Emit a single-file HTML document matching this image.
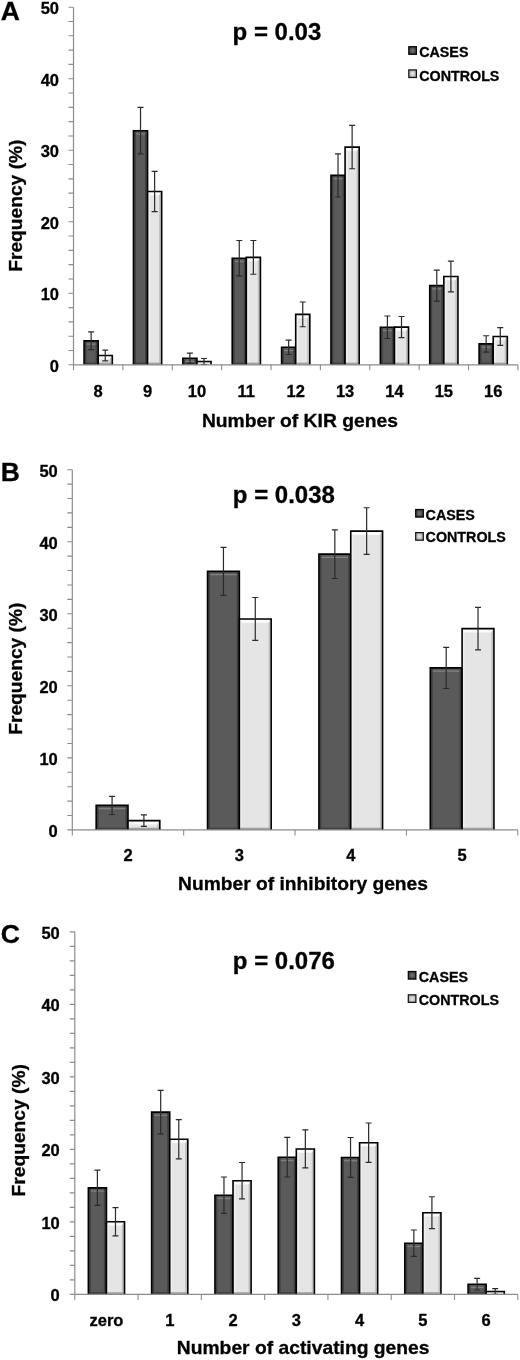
<!DOCTYPE html><html><head><meta charset="utf-8"><style>html,body{margin:0;padding:0;background:#fff;}svg{display:block;will-change:transform;}#w{width:520px;height:1360px;}text{font-family:"Liberation Sans",sans-serif;font-weight:bold;fill:#000;stroke:#000;stroke-width:0.3px;}</style></head><body>
<div id="w">
<svg width="520" height="1360" viewBox="0 0 520 1360">
<defs>
<linearGradient id="gd" x1="0" x2="1" y1="0" y2="0">
 <stop offset="0" stop-color="#2e2e2e"/><stop offset="0.12" stop-color="#474747"/><stop offset="0.5" stop-color="#555"/><stop offset="0.88" stop-color="#474747"/><stop offset="1" stop-color="#2e2e2e"/>
</linearGradient>
<linearGradient id="gl" x1="0" x2="1" y1="0" y2="0">
 <stop offset="0" stop-color="#a8a8a8"/><stop offset="0.14" stop-color="#d4d4d4"/><stop offset="0.5" stop-color="#e4e4e4"/><stop offset="0.86" stop-color="#d4d4d4"/><stop offset="1" stop-color="#a8a8a8"/>
</linearGradient>
<radialGradient id="ld" cx="0.5" cy="0.5" r="0.6"><stop offset="0" stop-color="#777"/><stop offset="1" stop-color="#333"/></radialGradient>
<radialGradient id="ll" cx="0.5" cy="0.5" r="0.6"><stop offset="0" stop-color="#eee"/><stop offset="1" stop-color="#999"/></radialGradient>
</defs>
<rect x="0" y="0" width="520" height="1360" fill="#fff"/>
<rect x="84.08" y="340.84" width="14.11" height="23.96" fill="#5a5a5a"/>
<rect x="84.88" y="340.84" width="1.6" height="23.96" fill="#3e3e3e"/>
<rect x="95.59" y="340.84" width="1.8" height="23.96" fill="#404040"/>
<rect x="86.68" y="343.44" width="8.91" height="1.3" fill="#808080"/>
<rect x="84.88" y="362.60" width="12.51" height="2.2" fill="#3e3e3e"/>
<path d="M84.08 364.80V340.84H98.19V364.80" fill="none" stroke="#000" stroke-width="1.6"/>
<rect x="98.19" y="355.50" width="14.11" height="9.30" fill="#e5e5e5"/>
<rect x="98.99" y="355.50" width="1.6" height="9.30" fill="#f0f0f0"/>
<rect x="109.70" y="355.50" width="1.8" height="9.30" fill="#c0c0c0"/>
<path d="M98.99 356.30H111.50L109.70 359.30H100.59Z" fill="#fbfbfb"/>
<rect x="98.99" y="362.60" width="12.51" height="2.2" fill="#a2a2a2"/>
<path d="M98.19 364.80V355.50H112.30V364.80" fill="none" stroke="#000" stroke-width="1.6"/>
<rect x="133.46" y="130.72" width="14.11" height="234.08" fill="#5a5a5a"/>
<rect x="134.26" y="130.72" width="1.6" height="234.08" fill="#3e3e3e"/>
<rect x="144.97" y="130.72" width="1.8" height="234.08" fill="#404040"/>
<rect x="136.06" y="133.32" width="8.91" height="1.3" fill="#808080"/>
<rect x="134.26" y="362.60" width="12.51" height="2.2" fill="#3e3e3e"/>
<path d="M133.46 364.80V130.72H147.57V364.80" fill="none" stroke="#000" stroke-width="1.6"/>
<rect x="147.57" y="191.51" width="14.11" height="173.29" fill="#e5e5e5"/>
<rect x="148.37" y="191.51" width="1.6" height="173.29" fill="#f0f0f0"/>
<rect x="159.07" y="191.51" width="1.8" height="173.29" fill="#c0c0c0"/>
<path d="M148.37 192.31H160.87L159.07 195.31H149.97Z" fill="#fbfbfb"/>
<rect x="148.37" y="362.60" width="12.51" height="2.2" fill="#a2a2a2"/>
<path d="M147.57 364.80V191.51H161.67V364.80" fill="none" stroke="#000" stroke-width="1.6"/>
<rect x="182.84" y="358.22" width="14.11" height="6.58" fill="#5a5a5a"/>
<rect x="183.64" y="358.22" width="1.6" height="6.58" fill="#3e3e3e"/>
<rect x="194.34" y="358.22" width="1.8" height="6.58" fill="#404040"/>
<rect x="185.44" y="360.82" width="8.91" height="1.3" fill="#808080"/>
<rect x="183.64" y="362.60" width="12.51" height="2.2" fill="#3e3e3e"/>
<path d="M182.84 364.80V358.22H196.94V364.80" fill="none" stroke="#000" stroke-width="1.6"/>
<rect x="196.94" y="361.51" width="14.11" height="3.29" fill="#e5e5e5"/>
<path d="M196.94 364.80V361.51H211.05V364.80" fill="none" stroke="#000" stroke-width="1.6"/>
<rect x="232.21" y="258.24" width="14.11" height="106.56" fill="#5a5a5a"/>
<rect x="233.01" y="258.24" width="1.6" height="106.56" fill="#3e3e3e"/>
<rect x="243.72" y="258.24" width="1.8" height="106.56" fill="#404040"/>
<rect x="234.81" y="260.84" width="8.91" height="1.3" fill="#808080"/>
<rect x="233.01" y="362.60" width="12.51" height="2.2" fill="#3e3e3e"/>
<path d="M232.21 364.80V258.24H246.32V364.80" fill="none" stroke="#000" stroke-width="1.6"/>
<rect x="246.32" y="257.38" width="14.11" height="107.42" fill="#e5e5e5"/>
<rect x="247.12" y="257.38" width="1.6" height="107.42" fill="#f0f0f0"/>
<rect x="257.83" y="257.38" width="1.8" height="107.42" fill="#c0c0c0"/>
<path d="M247.12 258.18H259.63L257.83 261.18H248.72Z" fill="#fbfbfb"/>
<rect x="247.12" y="362.60" width="12.51" height="2.2" fill="#a2a2a2"/>
<path d="M246.32 364.80V257.38H260.43V364.80" fill="none" stroke="#000" stroke-width="1.6"/>
<rect x="281.59" y="347.28" width="14.11" height="17.52" fill="#5a5a5a"/>
<rect x="282.39" y="347.28" width="1.6" height="17.52" fill="#3e3e3e"/>
<rect x="293.10" y="347.28" width="1.8" height="17.52" fill="#404040"/>
<rect x="284.19" y="349.88" width="8.91" height="1.3" fill="#808080"/>
<rect x="282.39" y="362.60" width="12.51" height="2.2" fill="#3e3e3e"/>
<path d="M281.59 364.80V347.28H295.70V364.80" fill="none" stroke="#000" stroke-width="1.6"/>
<rect x="295.70" y="314.38" width="14.11" height="50.42" fill="#e5e5e5"/>
<rect x="296.50" y="314.38" width="1.6" height="50.42" fill="#f0f0f0"/>
<rect x="307.21" y="314.38" width="1.8" height="50.42" fill="#c0c0c0"/>
<path d="M296.50 315.18H309.01L307.21 318.18H298.10Z" fill="#fbfbfb"/>
<rect x="296.50" y="362.60" width="12.51" height="2.2" fill="#a2a2a2"/>
<path d="M295.70 364.80V314.38H309.81V364.80" fill="none" stroke="#000" stroke-width="1.6"/>
<rect x="330.97" y="175.42" width="14.11" height="189.38" fill="#5a5a5a"/>
<rect x="331.77" y="175.42" width="1.6" height="189.38" fill="#3e3e3e"/>
<rect x="342.48" y="175.42" width="1.8" height="189.38" fill="#404040"/>
<rect x="333.57" y="178.02" width="8.91" height="1.3" fill="#808080"/>
<rect x="331.77" y="362.60" width="12.51" height="2.2" fill="#3e3e3e"/>
<path d="M330.97 364.80V175.42H345.08V364.80" fill="none" stroke="#000" stroke-width="1.6"/>
<rect x="345.08" y="147.09" width="14.11" height="217.71" fill="#e5e5e5"/>
<rect x="345.88" y="147.09" width="1.6" height="217.71" fill="#f0f0f0"/>
<rect x="356.59" y="147.09" width="1.8" height="217.71" fill="#c0c0c0"/>
<path d="M345.88 147.89H358.39L356.59 150.89H347.48Z" fill="#fbfbfb"/>
<rect x="345.88" y="362.60" width="12.51" height="2.2" fill="#a2a2a2"/>
<path d="M345.08 364.80V147.09H359.19V364.80" fill="none" stroke="#000" stroke-width="1.6"/>
<rect x="380.35" y="327.25" width="14.11" height="37.55" fill="#5a5a5a"/>
<rect x="381.15" y="327.25" width="1.6" height="37.55" fill="#3e3e3e"/>
<rect x="391.86" y="327.25" width="1.8" height="37.55" fill="#404040"/>
<rect x="382.95" y="329.85" width="8.91" height="1.3" fill="#808080"/>
<rect x="381.15" y="362.60" width="12.51" height="2.2" fill="#3e3e3e"/>
<path d="M380.35 364.80V327.25H394.46V364.80" fill="none" stroke="#000" stroke-width="1.6"/>
<rect x="394.46" y="327.11" width="14.11" height="37.69" fill="#e5e5e5"/>
<rect x="395.26" y="327.11" width="1.6" height="37.69" fill="#f0f0f0"/>
<rect x="405.96" y="327.11" width="1.8" height="37.69" fill="#c0c0c0"/>
<path d="M395.26 327.91H407.76L405.96 330.91H396.86Z" fill="#fbfbfb"/>
<rect x="395.26" y="362.60" width="12.51" height="2.2" fill="#a2a2a2"/>
<path d="M394.46 364.80V327.11H408.56V364.80" fill="none" stroke="#000" stroke-width="1.6"/>
<rect x="429.73" y="285.63" width="14.11" height="79.17" fill="#5a5a5a"/>
<rect x="430.53" y="285.63" width="1.6" height="79.17" fill="#3e3e3e"/>
<rect x="441.23" y="285.63" width="1.8" height="79.17" fill="#404040"/>
<rect x="432.33" y="288.23" width="8.91" height="1.3" fill="#808080"/>
<rect x="430.53" y="362.60" width="12.51" height="2.2" fill="#3e3e3e"/>
<path d="M429.73 364.80V285.63H443.83V364.80" fill="none" stroke="#000" stroke-width="1.6"/>
<rect x="443.83" y="276.54" width="14.11" height="88.26" fill="#e5e5e5"/>
<rect x="444.63" y="276.54" width="1.6" height="88.26" fill="#f0f0f0"/>
<rect x="455.34" y="276.54" width="1.8" height="88.26" fill="#c0c0c0"/>
<path d="M444.63 277.34H457.14L455.34 280.34H446.23Z" fill="#fbfbfb"/>
<rect x="444.63" y="362.60" width="12.51" height="2.2" fill="#a2a2a2"/>
<path d="M443.83 364.80V276.54H457.94V364.80" fill="none" stroke="#000" stroke-width="1.6"/>
<rect x="479.10" y="343.92" width="14.11" height="20.88" fill="#5a5a5a"/>
<rect x="479.90" y="343.92" width="1.6" height="20.88" fill="#3e3e3e"/>
<rect x="490.61" y="343.92" width="1.8" height="20.88" fill="#404040"/>
<rect x="481.70" y="346.52" width="8.91" height="1.3" fill="#808080"/>
<rect x="479.90" y="362.60" width="12.51" height="2.2" fill="#3e3e3e"/>
<path d="M479.10 364.80V343.92H493.21V364.80" fill="none" stroke="#000" stroke-width="1.6"/>
<rect x="493.21" y="336.48" width="14.11" height="28.32" fill="#e5e5e5"/>
<rect x="494.01" y="336.48" width="1.6" height="28.32" fill="#f0f0f0"/>
<rect x="504.72" y="336.48" width="1.8" height="28.32" fill="#c0c0c0"/>
<path d="M494.01 337.28H506.52L504.72 340.28H495.61Z" fill="#fbfbfb"/>
<rect x="494.01" y="362.60" width="12.51" height="2.2" fill="#a2a2a2"/>
<path d="M493.21 364.80V336.48H507.32V364.80" fill="none" stroke="#000" stroke-width="1.6"/>
<path d="M91.13 331.97V349.71M88.13 331.97H94.13M88.13 349.71H94.13" stroke="#2a2a2a" stroke-width="1.2" fill="none"/>
<path d="M105.24 350.14V360.87M102.24 350.14H108.24M102.24 360.87H108.24" stroke="#2a2a2a" stroke-width="1.2" fill="none"/>
<path d="M140.51 107.47V153.96M137.51 107.47H143.51M137.51 153.96H143.51" stroke="#2a2a2a" stroke-width="1.2" fill="none"/>
<path d="M154.62 171.34V211.68M151.62 171.34H157.62M151.62 211.68H157.62" stroke="#2a2a2a" stroke-width="1.2" fill="none"/>
<path d="M189.89 353.14V363.30M186.89 353.14H192.89M186.89 363.30H192.89" stroke="#2a2a2a" stroke-width="1.2" fill="none"/>
<path d="M204.00 358.51V364.51M201.00 358.51H207.00M201.00 364.51H207.00" stroke="#2a2a2a" stroke-width="1.2" fill="none"/>
<path d="M239.27 240.50V275.97M236.27 240.50H242.27M236.27 275.97H242.27" stroke="#2a2a2a" stroke-width="1.2" fill="none"/>
<path d="M253.38 240.50V274.26M250.38 240.50H256.38M250.38 274.26H256.38" stroke="#2a2a2a" stroke-width="1.2" fill="none"/>
<path d="M288.65 340.05V354.50M285.65 340.05H291.65M285.65 354.50H291.65" stroke="#2a2a2a" stroke-width="1.2" fill="none"/>
<path d="M302.75 302.01V326.75M299.75 302.01H305.75M299.75 326.75H305.75" stroke="#2a2a2a" stroke-width="1.2" fill="none"/>
<path d="M338.02 153.82V197.01M335.02 153.82H341.02M335.02 197.01H341.02" stroke="#2a2a2a" stroke-width="1.2" fill="none"/>
<path d="M352.13 125.42V168.76M349.13 125.42H355.13M349.13 168.76H355.13" stroke="#2a2a2a" stroke-width="1.2" fill="none"/>
<path d="M387.40 316.02V338.48M384.40 316.02H390.40M384.40 338.48H390.40" stroke="#2a2a2a" stroke-width="1.2" fill="none"/>
<path d="M401.51 316.52V337.69M398.51 316.52H404.51M398.51 337.69H404.51" stroke="#2a2a2a" stroke-width="1.2" fill="none"/>
<path d="M436.78 270.04V301.22M433.78 270.04H439.78M433.78 301.22H439.78" stroke="#2a2a2a" stroke-width="1.2" fill="none"/>
<path d="M450.89 261.17V291.92M447.89 261.17H453.89M447.89 291.92H453.89" stroke="#2a2a2a" stroke-width="1.2" fill="none"/>
<path d="M486.16 335.76V352.07M483.16 335.76H489.16M483.16 352.07H489.16" stroke="#2a2a2a" stroke-width="1.2" fill="none"/>
<path d="M500.27 327.54V345.42M497.27 327.54H503.27M497.27 345.42H503.27" stroke="#2a2a2a" stroke-width="1.2" fill="none"/>
<path d="M73.50 7.20V364.80H517.90" stroke="#8c8c8c" stroke-width="1.2" fill="none"/>
<path d="M68.50 364.80H73.50M68.50 350.50H73.50M68.50 336.19H73.50M68.50 321.89H73.50M68.50 307.58H73.50M68.50 293.28H73.50M68.50 278.98H73.50M68.50 264.67H73.50M68.50 250.37H73.50M68.50 236.06H73.50M68.50 221.76H73.50M68.50 207.46H73.50M68.50 193.15H73.50M68.50 178.85H73.50M68.50 164.54H73.50M68.50 150.24H73.50M68.50 135.94H73.50M68.50 121.63H73.50M68.50 107.33H73.50M68.50 93.02H73.50M68.50 78.72H73.50M68.50 64.42H73.50M68.50 50.11H73.50M68.50 35.81H73.50M68.50 21.50H73.50M68.50 7.20H73.50M73.50 364.80V370.30M122.88 364.80V370.30M172.26 364.80V370.30M221.63 364.80V370.30M271.01 364.80V370.30M320.39 364.80V370.30M369.77 364.80V370.30M419.14 364.80V370.30M468.52 364.80V370.30M517.90 364.80V370.30" stroke="#8c8c8c" stroke-width="1.1" fill="none"/>
<text x="59.00" y="371.60" font-size="16.5" text-anchor="end">0</text>
<text x="59.00" y="300.08" font-size="16.5" text-anchor="end">10</text>
<text x="59.00" y="228.56" font-size="16.5" text-anchor="end">20</text>
<text x="59.00" y="157.04" font-size="16.5" text-anchor="end">30</text>
<text x="59.00" y="85.52" font-size="16.5" text-anchor="end">40</text>
<text x="59.00" y="14.00" font-size="16.5" text-anchor="end">50</text>
<text x="98.19" y="396.50" font-size="16.5" text-anchor="middle">8</text>
<text x="147.57" y="396.50" font-size="16.5" text-anchor="middle">9</text>
<text x="196.94" y="396.50" font-size="16.5" text-anchor="middle">10</text>
<text x="246.32" y="396.50" font-size="16.5" text-anchor="middle">11</text>
<text x="295.70" y="396.50" font-size="16.5" text-anchor="middle">12</text>
<text x="345.08" y="396.50" font-size="16.5" text-anchor="middle">13</text>
<text x="394.46" y="396.50" font-size="16.5" text-anchor="middle">14</text>
<text x="443.83" y="396.50" font-size="16.5" text-anchor="middle">15</text>
<text x="493.21" y="396.50" font-size="16.5" text-anchor="middle">16</text>
<text x="201.90" y="427.20" font-size="19" textLength="196.0" lengthAdjust="spacingAndGlyphs">Number of KIR genes</text>
<text transform="translate(21.60,271.80) rotate(-90)" x="0" y="0" font-size="19" textLength="132.3" lengthAdjust="spacingAndGlyphs">Frequency (%)</text>
<text x="0.8" y="20.20" font-size="26.5">A</text>
<text x="232.60" y="40.40" font-size="24">p = 0.03</text>
<rect x="408.80" y="46.70" width="7.6" height="7.6" fill="url(#ld)" stroke="#000" stroke-width="1.2"/>
<rect x="408.80" y="69.90" width="7.6" height="7.6" fill="url(#ll)" stroke="#111" stroke-width="1.2"/>
<text x="419.20" y="56.90" font-size="14.3">CASES</text>
<text x="419.20" y="80.60" font-size="14.3">CONTROLS</text>
<rect x="96.17" y="805.41" width="31.82" height="24.49" fill="#5a5a5a"/>
<rect x="96.97" y="805.41" width="1.6" height="24.49" fill="#3e3e3e"/>
<rect x="125.39" y="805.41" width="1.8" height="24.49" fill="#404040"/>
<rect x="98.77" y="808.01" width="26.62" height="1.3" fill="#808080"/>
<rect x="96.97" y="827.70" width="30.22" height="2.2" fill="#3e3e3e"/>
<path d="M96.17 829.90V805.41H127.99V829.90" fill="none" stroke="#000" stroke-width="1.6"/>
<rect x="127.99" y="820.61" width="31.82" height="9.29" fill="#e5e5e5"/>
<rect x="128.79" y="820.61" width="1.6" height="9.29" fill="#f0f0f0"/>
<rect x="157.21" y="820.61" width="1.8" height="9.29" fill="#c0c0c0"/>
<path d="M128.79 821.41H159.01L157.21 824.41H130.39Z" fill="#fbfbfb"/>
<rect x="128.79" y="827.70" width="30.22" height="2.2" fill="#a2a2a2"/>
<path d="M127.99 829.90V820.61H159.81V829.90" fill="none" stroke="#000" stroke-width="1.6"/>
<rect x="207.54" y="571.35" width="31.82" height="258.55" fill="#5a5a5a"/>
<rect x="208.34" y="571.35" width="1.6" height="258.55" fill="#3e3e3e"/>
<rect x="236.76" y="571.35" width="1.8" height="258.55" fill="#404040"/>
<rect x="210.14" y="573.95" width="26.62" height="1.3" fill="#808080"/>
<rect x="208.34" y="827.70" width="30.22" height="2.2" fill="#3e3e3e"/>
<path d="M207.54 829.90V571.35H239.36V829.90" fill="none" stroke="#000" stroke-width="1.6"/>
<rect x="239.36" y="618.97" width="31.82" height="210.93" fill="#e5e5e5"/>
<rect x="240.16" y="618.97" width="1.6" height="210.93" fill="#f0f0f0"/>
<rect x="268.58" y="618.97" width="1.8" height="210.93" fill="#c0c0c0"/>
<path d="M240.16 619.77H270.38L268.58 622.77H241.76Z" fill="#fbfbfb"/>
<rect x="240.16" y="827.70" width="30.22" height="2.2" fill="#a2a2a2"/>
<path d="M239.36 829.90V618.97H271.18V829.90" fill="none" stroke="#000" stroke-width="1.6"/>
<rect x="318.92" y="554.13" width="31.82" height="275.77" fill="#5a5a5a"/>
<rect x="319.72" y="554.13" width="1.6" height="275.77" fill="#3e3e3e"/>
<rect x="348.14" y="554.13" width="1.8" height="275.77" fill="#404040"/>
<rect x="321.52" y="556.73" width="26.62" height="1.3" fill="#808080"/>
<rect x="319.72" y="827.70" width="30.22" height="2.2" fill="#3e3e3e"/>
<path d="M318.92 829.90V554.13H350.74V829.90" fill="none" stroke="#000" stroke-width="1.6"/>
<rect x="350.74" y="531.08" width="31.82" height="298.82" fill="#e5e5e5"/>
<rect x="351.54" y="531.08" width="1.6" height="298.82" fill="#f0f0f0"/>
<rect x="379.96" y="531.08" width="1.8" height="298.82" fill="#c0c0c0"/>
<path d="M351.54 531.88H381.76L379.96 534.88H353.14Z" fill="#fbfbfb"/>
<rect x="351.54" y="827.70" width="30.22" height="2.2" fill="#a2a2a2"/>
<path d="M350.74 829.90V531.08H382.56V829.90" fill="none" stroke="#000" stroke-width="1.6"/>
<rect x="430.29" y="667.88" width="31.82" height="162.02" fill="#5a5a5a"/>
<rect x="431.09" y="667.88" width="1.6" height="162.02" fill="#3e3e3e"/>
<rect x="459.51" y="667.88" width="1.8" height="162.02" fill="#404040"/>
<rect x="432.89" y="670.48" width="26.62" height="1.3" fill="#808080"/>
<rect x="431.09" y="827.70" width="30.22" height="2.2" fill="#3e3e3e"/>
<path d="M430.29 829.90V667.88H462.11V829.90" fill="none" stroke="#000" stroke-width="1.6"/>
<rect x="462.11" y="628.62" width="31.82" height="201.28" fill="#e5e5e5"/>
<rect x="462.91" y="628.62" width="1.6" height="201.28" fill="#f0f0f0"/>
<rect x="491.33" y="628.62" width="1.8" height="201.28" fill="#c0c0c0"/>
<path d="M462.91 629.42H493.13L491.33 632.42H464.51Z" fill="#fbfbfb"/>
<rect x="462.91" y="827.70" width="30.22" height="2.2" fill="#a2a2a2"/>
<path d="M462.11 829.90V628.62H493.93V829.90" fill="none" stroke="#000" stroke-width="1.6"/>
<path d="M112.08 796.33V814.48M109.08 796.33H115.08M109.08 814.48H115.08" stroke="#2a2a2a" stroke-width="1.2" fill="none"/>
<path d="M143.90 814.92V826.30M140.90 814.92H146.90M140.90 826.30H146.90" stroke="#2a2a2a" stroke-width="1.2" fill="none"/>
<path d="M223.45 547.29V595.41M220.45 547.29H226.45M220.45 595.41H226.45" stroke="#2a2a2a" stroke-width="1.2" fill="none"/>
<path d="M255.27 597.50V640.43M252.27 597.50H258.27M252.27 640.43H258.27" stroke="#2a2a2a" stroke-width="1.2" fill="none"/>
<path d="M334.83 529.78V578.48M331.83 529.78H337.83M331.83 578.48H337.83" stroke="#2a2a2a" stroke-width="1.2" fill="none"/>
<path d="M366.65 507.74V554.42M363.65 507.74H369.65M363.65 554.42H369.65" stroke="#2a2a2a" stroke-width="1.2" fill="none"/>
<path d="M446.20 647.28V688.49M443.20 647.28H449.20M443.20 688.49H449.20" stroke="#2a2a2a" stroke-width="1.2" fill="none"/>
<path d="M478.02 607.30V649.94M475.02 607.30H481.02M475.02 649.94H481.02" stroke="#2a2a2a" stroke-width="1.2" fill="none"/>
<path d="M72.30 469.70V829.90H517.80" stroke="#8c8c8c" stroke-width="1.2" fill="none"/>
<path d="M67.30 829.90H72.30M67.30 815.49H72.30M67.30 801.08H72.30M67.30 786.68H72.30M67.30 772.27H72.30M67.30 757.86H72.30M67.30 743.45H72.30M67.30 729.04H72.30M67.30 714.64H72.30M67.30 700.23H72.30M67.30 685.82H72.30M67.30 671.41H72.30M67.30 657.00H72.30M67.30 642.60H72.30M67.30 628.19H72.30M67.30 613.78H72.30M67.30 599.37H72.30M67.30 584.96H72.30M67.30 570.56H72.30M67.30 556.15H72.30M67.30 541.74H72.30M67.30 527.33H72.30M67.30 512.92H72.30M67.30 498.52H72.30M67.30 484.11H72.30M67.30 469.70H72.30M72.30 829.90V835.40M183.67 829.90V835.40M295.05 829.90V835.40M406.42 829.90V835.40M517.80 829.90V835.40" stroke="#8c8c8c" stroke-width="1.1" fill="none"/>
<text x="57.80" y="836.70" font-size="16.5" text-anchor="end">0</text>
<text x="57.80" y="764.66" font-size="16.5" text-anchor="end">10</text>
<text x="57.80" y="692.62" font-size="16.5" text-anchor="end">20</text>
<text x="57.80" y="620.58" font-size="16.5" text-anchor="end">30</text>
<text x="57.80" y="548.54" font-size="16.5" text-anchor="end">40</text>
<text x="57.80" y="476.50" font-size="16.5" text-anchor="end">50</text>
<text x="127.99" y="861.30" font-size="16.5" text-anchor="middle">2</text>
<text x="239.36" y="861.30" font-size="16.5" text-anchor="middle">3</text>
<text x="350.74" y="861.30" font-size="16.5" text-anchor="middle">4</text>
<text x="462.11" y="861.30" font-size="16.5" text-anchor="middle">5</text>
<text x="178.00" y="890.40" font-size="19" textLength="250.0" lengthAdjust="spacingAndGlyphs">Number of inhibitory genes</text>
<text transform="translate(22.40,734.80) rotate(-90)" x="0" y="0" font-size="19" textLength="132.2" lengthAdjust="spacingAndGlyphs">Frequency (%)</text>
<text x="0.8" y="481.20" font-size="26.5">B</text>
<text x="232.80" y="503.10" font-size="24">p = 0.038</text>
<rect x="415.70" y="509.50" width="7.6" height="7.6" fill="url(#ld)" stroke="#000" stroke-width="1.2"/>
<rect x="415.70" y="532.60" width="7.6" height="7.6" fill="url(#ll)" stroke="#111" stroke-width="1.2"/>
<text x="425.60" y="519.50" font-size="14.3">CASES</text>
<text x="425.60" y="542.30" font-size="14.3">CONTROLS</text>
<rect x="88.36" y="1187.83" width="18.08" height="106.58" fill="#5a5a5a"/>
<rect x="89.16" y="1187.83" width="1.6" height="106.58" fill="#3e3e3e"/>
<rect x="103.84" y="1187.83" width="1.8" height="106.58" fill="#404040"/>
<rect x="90.96" y="1190.42" width="12.88" height="1.3" fill="#808080"/>
<rect x="89.16" y="1292.20" width="16.48" height="2.2" fill="#3e3e3e"/>
<path d="M88.36 1294.40V1187.83H106.44V1294.40" fill="none" stroke="#000" stroke-width="1.6"/>
<rect x="106.44" y="1221.68" width="18.08" height="72.72" fill="#e5e5e5"/>
<rect x="107.24" y="1221.68" width="1.6" height="72.72" fill="#f0f0f0"/>
<rect x="121.92" y="1221.68" width="1.8" height="72.72" fill="#c0c0c0"/>
<path d="M107.24 1222.48H123.72L121.92 1225.48H108.84Z" fill="#fbfbfb"/>
<rect x="107.24" y="1292.20" width="16.48" height="2.2" fill="#a2a2a2"/>
<path d="M106.44 1294.40V1221.68H124.52V1294.40" fill="none" stroke="#000" stroke-width="1.6"/>
<rect x="151.65" y="1112.13" width="18.08" height="182.27" fill="#5a5a5a"/>
<rect x="152.45" y="1112.13" width="1.6" height="182.27" fill="#3e3e3e"/>
<rect x="167.13" y="1112.13" width="1.8" height="182.27" fill="#404040"/>
<rect x="154.25" y="1114.73" width="12.88" height="1.3" fill="#808080"/>
<rect x="152.45" y="1292.20" width="16.48" height="2.2" fill="#3e3e3e"/>
<path d="M151.65 1294.40V1112.13H169.73V1294.40" fill="none" stroke="#000" stroke-width="1.6"/>
<rect x="169.73" y="1139.25" width="18.08" height="155.15" fill="#e5e5e5"/>
<rect x="170.53" y="1139.25" width="1.6" height="155.15" fill="#f0f0f0"/>
<rect x="185.21" y="1139.25" width="1.8" height="155.15" fill="#c0c0c0"/>
<path d="M170.53 1140.05H187.01L185.21 1143.05H172.13Z" fill="#fbfbfb"/>
<rect x="170.53" y="1292.20" width="16.48" height="2.2" fill="#a2a2a2"/>
<path d="M169.73 1294.40V1139.25H187.81V1294.40" fill="none" stroke="#000" stroke-width="1.6"/>
<rect x="214.93" y="1195.22" width="18.08" height="99.18" fill="#5a5a5a"/>
<rect x="215.73" y="1195.22" width="1.6" height="99.18" fill="#3e3e3e"/>
<rect x="230.41" y="1195.22" width="1.8" height="99.18" fill="#404040"/>
<rect x="217.53" y="1197.82" width="12.88" height="1.3" fill="#808080"/>
<rect x="215.73" y="1292.20" width="16.48" height="2.2" fill="#3e3e3e"/>
<path d="M214.93 1294.40V1195.22H233.01V1294.40" fill="none" stroke="#000" stroke-width="1.6"/>
<rect x="233.01" y="1180.72" width="18.08" height="113.68" fill="#e5e5e5"/>
<rect x="233.81" y="1180.72" width="1.6" height="113.68" fill="#f0f0f0"/>
<rect x="248.50" y="1180.72" width="1.8" height="113.68" fill="#c0c0c0"/>
<path d="M233.81 1181.52H250.30L248.50 1184.52H235.41Z" fill="#fbfbfb"/>
<rect x="233.81" y="1292.20" width="16.48" height="2.2" fill="#a2a2a2"/>
<path d="M233.01 1294.40V1180.72H251.10V1294.40" fill="none" stroke="#000" stroke-width="1.6"/>
<rect x="278.22" y="1157.23" width="18.08" height="137.17" fill="#5a5a5a"/>
<rect x="279.02" y="1157.23" width="1.6" height="137.17" fill="#3e3e3e"/>
<rect x="293.70" y="1157.23" width="1.8" height="137.17" fill="#404040"/>
<rect x="280.82" y="1159.83" width="12.88" height="1.3" fill="#808080"/>
<rect x="279.02" y="1292.20" width="16.48" height="2.2" fill="#3e3e3e"/>
<path d="M278.22 1294.40V1157.23H296.30V1294.40" fill="none" stroke="#000" stroke-width="1.6"/>
<rect x="296.30" y="1148.97" width="18.08" height="145.43" fill="#e5e5e5"/>
<rect x="297.10" y="1148.97" width="1.6" height="145.43" fill="#f0f0f0"/>
<rect x="311.78" y="1148.97" width="1.8" height="145.43" fill="#c0c0c0"/>
<path d="M297.10 1149.77H313.58L311.78 1152.77H298.70Z" fill="#fbfbfb"/>
<rect x="297.10" y="1292.20" width="16.48" height="2.2" fill="#a2a2a2"/>
<path d="M296.30 1294.40V1148.97H314.38V1294.40" fill="none" stroke="#000" stroke-width="1.6"/>
<rect x="341.50" y="1157.45" width="18.08" height="136.95" fill="#5a5a5a"/>
<rect x="342.30" y="1157.45" width="1.6" height="136.95" fill="#3e3e3e"/>
<rect x="356.99" y="1157.45" width="1.8" height="136.95" fill="#404040"/>
<rect x="344.10" y="1160.05" width="12.88" height="1.3" fill="#808080"/>
<rect x="342.30" y="1292.20" width="16.48" height="2.2" fill="#3e3e3e"/>
<path d="M341.50 1294.40V1157.45H359.59V1294.40" fill="none" stroke="#000" stroke-width="1.6"/>
<rect x="359.59" y="1142.73" width="18.08" height="151.67" fill="#e5e5e5"/>
<rect x="360.39" y="1142.73" width="1.6" height="151.67" fill="#f0f0f0"/>
<rect x="375.07" y="1142.73" width="1.8" height="151.67" fill="#c0c0c0"/>
<path d="M360.39 1143.53H376.87L375.07 1146.53H361.99Z" fill="#fbfbfb"/>
<rect x="360.39" y="1292.20" width="16.48" height="2.2" fill="#a2a2a2"/>
<path d="M359.59 1294.40V1142.73H377.67V1294.40" fill="none" stroke="#000" stroke-width="1.6"/>
<rect x="404.79" y="1243.22" width="18.08" height="51.18" fill="#5a5a5a"/>
<rect x="405.59" y="1243.22" width="1.6" height="51.18" fill="#3e3e3e"/>
<rect x="420.27" y="1243.22" width="1.8" height="51.18" fill="#404040"/>
<rect x="407.39" y="1245.82" width="12.88" height="1.3" fill="#808080"/>
<rect x="405.59" y="1292.20" width="16.48" height="2.2" fill="#3e3e3e"/>
<path d="M404.79 1294.40V1243.22H422.87V1294.40" fill="none" stroke="#000" stroke-width="1.6"/>
<rect x="422.87" y="1212.69" width="18.08" height="81.71" fill="#e5e5e5"/>
<rect x="423.67" y="1212.69" width="1.6" height="81.71" fill="#f0f0f0"/>
<rect x="438.35" y="1212.69" width="1.8" height="81.71" fill="#c0c0c0"/>
<path d="M423.67 1213.49H440.15L438.35 1216.49H425.27Z" fill="#fbfbfb"/>
<rect x="423.67" y="1292.20" width="16.48" height="2.2" fill="#a2a2a2"/>
<path d="M422.87 1294.40V1212.69H440.95V1294.40" fill="none" stroke="#000" stroke-width="1.6"/>
<rect x="468.08" y="1284.18" width="18.08" height="10.22" fill="#5a5a5a"/>
<rect x="468.88" y="1284.18" width="1.6" height="10.22" fill="#3e3e3e"/>
<rect x="483.56" y="1284.18" width="1.8" height="10.22" fill="#404040"/>
<rect x="470.68" y="1286.78" width="12.88" height="1.3" fill="#808080"/>
<rect x="468.88" y="1292.20" width="16.48" height="2.2" fill="#3e3e3e"/>
<path d="M468.08 1294.40V1284.18H486.16V1294.40" fill="none" stroke="#000" stroke-width="1.6"/>
<rect x="486.16" y="1291.57" width="18.08" height="2.83" fill="#e5e5e5"/>
<path d="M486.16 1294.40V1291.57H504.24V1294.40" fill="none" stroke="#000" stroke-width="1.6"/>
<path d="M97.40 1170.21V1205.44M94.40 1170.21H100.40M94.40 1205.44H100.40" stroke="#2a2a2a" stroke-width="1.2" fill="none"/>
<path d="M115.48 1207.55V1235.82M112.48 1207.55H118.48M112.48 1235.82H118.48" stroke="#2a2a2a" stroke-width="1.2" fill="none"/>
<path d="M160.69 1090.46V1133.81M157.69 1090.46H163.69M157.69 1133.81H163.69" stroke="#2a2a2a" stroke-width="1.2" fill="none"/>
<path d="M178.77 1119.67V1158.83M175.77 1119.67H181.77M175.77 1158.83H181.77" stroke="#2a2a2a" stroke-width="1.2" fill="none"/>
<path d="M223.97 1177.02V1213.42M220.97 1177.02H226.97M220.97 1213.42H226.97" stroke="#2a2a2a" stroke-width="1.2" fill="none"/>
<path d="M242.06 1162.52V1198.92M239.06 1162.52H245.06M239.06 1198.92H245.06" stroke="#2a2a2a" stroke-width="1.2" fill="none"/>
<path d="M287.26 1137.44V1177.02M284.26 1137.44H290.26M284.26 1177.02H290.26" stroke="#2a2a2a" stroke-width="1.2" fill="none"/>
<path d="M305.34 1129.97V1167.96M302.34 1129.97H308.34M302.34 1167.96H308.34" stroke="#2a2a2a" stroke-width="1.2" fill="none"/>
<path d="M350.54 1137.51V1177.38M347.54 1137.51H353.54M347.54 1177.38H353.54" stroke="#2a2a2a" stroke-width="1.2" fill="none"/>
<path d="M368.63 1123.01V1162.45M365.63 1123.01H371.63M365.63 1162.45H371.63" stroke="#2a2a2a" stroke-width="1.2" fill="none"/>
<path d="M413.83 1230.02V1256.41M410.83 1230.02H416.83M410.83 1256.41H416.83" stroke="#2a2a2a" stroke-width="1.2" fill="none"/>
<path d="M431.91 1196.74V1228.64M428.91 1196.74H434.91M428.91 1228.64H434.91" stroke="#2a2a2a" stroke-width="1.2" fill="none"/>
<path d="M477.12 1278.38V1289.98M474.12 1278.38H480.12M474.12 1289.98H480.12" stroke="#2a2a2a" stroke-width="1.2" fill="none"/>
<path d="M495.20 1288.67V1294.40M492.20 1288.67H498.20M492.20 1294.40H498.20" stroke="#2a2a2a" stroke-width="1.2" fill="none"/>
<path d="M74.80 931.90V1294.40H517.80" stroke="#8c8c8c" stroke-width="1.2" fill="none"/>
<path d="M69.80 1294.40H74.80M69.80 1279.90H74.80M69.80 1265.40H74.80M69.80 1250.90H74.80M69.80 1236.40H74.80M69.80 1221.90H74.80M69.80 1207.40H74.80M69.80 1192.90H74.80M69.80 1178.40H74.80M69.80 1163.90H74.80M69.80 1149.40H74.80M69.80 1134.90H74.80M69.80 1120.40H74.80M69.80 1105.90H74.80M69.80 1091.40H74.80M69.80 1076.90H74.80M69.80 1062.40H74.80M69.80 1047.90H74.80M69.80 1033.40H74.80M69.80 1018.90H74.80M69.80 1004.40H74.80M69.80 989.90H74.80M69.80 975.40H74.80M69.80 960.90H74.80M69.80 946.40H74.80M69.80 931.90H74.80M74.80 1294.40V1299.90M138.09 1294.40V1299.90M201.37 1294.40V1299.90M264.66 1294.40V1299.90M327.94 1294.40V1299.90M391.23 1294.40V1299.90M454.51 1294.40V1299.90M517.80 1294.40V1299.90" stroke="#8c8c8c" stroke-width="1.1" fill="none"/>
<text x="59.80" y="1301.20" font-size="16.5" text-anchor="end">0</text>
<text x="59.80" y="1228.70" font-size="16.5" text-anchor="end">10</text>
<text x="59.80" y="1156.20" font-size="16.5" text-anchor="end">20</text>
<text x="59.80" y="1083.70" font-size="16.5" text-anchor="end">30</text>
<text x="59.80" y="1011.20" font-size="16.5" text-anchor="end">40</text>
<text x="59.80" y="938.70" font-size="16.5" text-anchor="end">50</text>
<text x="106.44" y="1325.80" font-size="16.5" text-anchor="middle">zero</text>
<text x="169.73" y="1325.80" font-size="16.5" text-anchor="middle">1</text>
<text x="233.01" y="1325.80" font-size="16.5" text-anchor="middle">2</text>
<text x="296.30" y="1325.80" font-size="16.5" text-anchor="middle">3</text>
<text x="359.59" y="1325.80" font-size="16.5" text-anchor="middle">4</text>
<text x="422.87" y="1325.80" font-size="16.5" text-anchor="middle">5</text>
<text x="486.16" y="1325.80" font-size="16.5" text-anchor="middle">6</text>
<text x="176.80" y="1353.50" font-size="19" textLength="252.7" lengthAdjust="spacingAndGlyphs">Number of activating genes</text>
<text transform="translate(24.90,1196.40) rotate(-90)" x="0" y="0" font-size="19" textLength="132.3" lengthAdjust="spacingAndGlyphs">Frequency (%)</text>
<text x="0.8" y="943.00" font-size="26.5">C</text>
<text x="232.80" y="968.50" font-size="24">p = 0.076</text>
<rect x="408.30" y="971.50" width="7.6" height="7.6" fill="url(#ld)" stroke="#000" stroke-width="1.2"/>
<rect x="408.30" y="994.80" width="7.6" height="7.6" fill="url(#ll)" stroke="#111" stroke-width="1.2"/>
<text x="418.80" y="981.80" font-size="14.3">CASES</text>
<text x="418.80" y="1004.80" font-size="14.3">CONTROLS</text>
</svg></div></body></html>
